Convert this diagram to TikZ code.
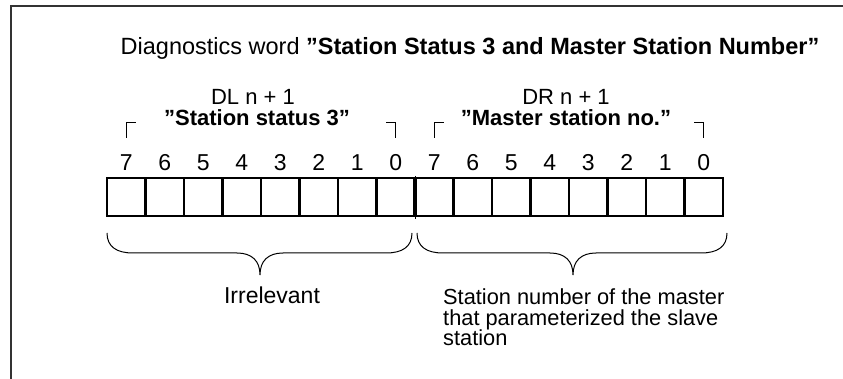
\documentclass[tikz,border=0pt]{standalone}
\usepackage{fontspec}
\setmainfont{Liberation Sans}
\begin{document}
\begin{tikzpicture}[x=1pt,y=-1pt,
  txt/.style={font=\fontsize{22}{20.5}\selectfont, inner sep=0pt},
  bigtxt/.style={font=\fontsize{23.5}{24}\selectfont, inner sep=0pt},
  digit/.style={font=\fontsize{23}{24}\selectfont, inner sep=0pt},
  cell/.style={draw, line width=2.3pt, minimum width=38.5pt, minimum height=38pt, inner sep=0pt, outer sep=0pt},
  frameline/.style={draw=black!80, line width=1.8pt},
  bracket/.style={draw, line width=1pt},
  bracestyle/.style={draw, line width=1pt}]
\useasboundingbox (0,0) rectangle (843,379);
% frame
\draw[frameline] (11,379) -- (11,6) -- (843,6);
% title
\node[bigtxt, anchor=base] (title) at (470,55) {Diagnostics word \textbf{”Station Status 3 and Master Station Number”}};
% group labels
\node[txt, anchor=base] (dl) at (253,105) {DL n + 1};
\node[txt, anchor=base] (dr) at (566,105) {DR n + 1};
\node[txt, anchor=base] (dln) at (257,126) {\textbf{”Station status 3”}};
\node[txt, anchor=base] (drn) at (566,126) {\textbf{”Master station no.”}};
% cells and digits
\foreach \i/\d in {0/7,1/6,2/5,3/4,4/3,5/2,6/1,7/0}{
  \node[cell] (cL\d) at ({107+38.5*(\i+0.5)},197) {};
  \node[digit, anchor=base] (dL\d) at ({107+38.5*(\i+0.5)},171) {\d};
  \node[cell] (cR\d) at ({415+38.5*(\i+0.5)},197) {};
  \node[digit, anchor=base] (dR\d) at ({415+38.5*(\i+0.5)},171) {\d};
}
% middle divider
\draw[line width=3.2pt] (cL0.north east) -- (cL0.south east);
\draw[line width=0.7pt] ([yshift=2pt]cL0.north east) -- ([yshift=-3pt]cL0.south east);
% brackets
\draw[bracket] (dL7.center |- 0,138) -- (dL7.center |- 0,123) -- ++(10,0);
\draw[bracket] (dL0.center |- 0,138) -- (dL0.center |- 0,123) -- ++(-10,0);
\draw[bracket] (dR7.center |- 0,138) -- (dR7.center |- 0,123) -- ++(10,0);
\draw[bracket] (dR0.center |- 0,138) -- (dR0.center |- 0,123) -- ++(-10,0);
% braces
\newcommand\mybrace[3]{%
  \draw[bracestyle] (#1,233) .. controls (#1,247) and ({#1+10},253) .. ({#1+26},253)
    -- ({#2-23},253) .. controls ({#2-8},253) and (#2,261) .. (#2,275)
    .. controls (#2,261) and ({#2+8},253) .. ({#2+23},253)
    -- ({#3-26},253) .. controls ({#3-10},253) and (#3,247) .. (#3,233);}
\mybrace{107}{260}{412}
\mybrace{417}{573}{727}
% bottom texts
\node[font=\fontsize{23}{24}\selectfont, inner sep=0pt, anchor=base] (irr) at (272,303) {Irrelevant};
\node[font=\fontsize{21.8}{20.5}\selectfont, inner sep=0pt, anchor=north west, align=left] (stn) at (443,289) {Station number of the master\\that parameterized the slave\\station};
\end{tikzpicture}
\end{document}
